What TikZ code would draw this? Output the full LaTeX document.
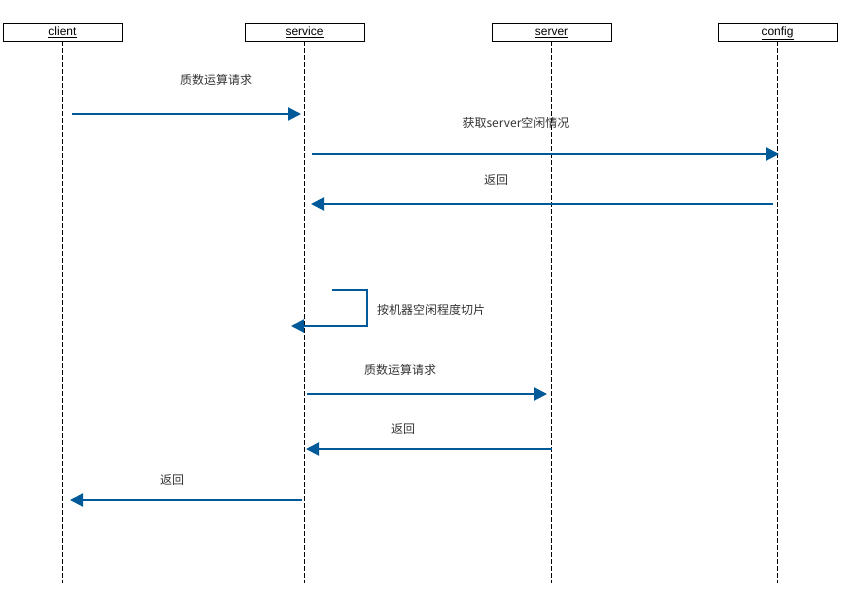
\documentclass[tikz,border=0pt]{standalone}
\usepackage{fontspec}
\setmainfont{Liberation Sans}
\newfontfamily\cjk{Noto Sans CJK SC}
\usepackage{tikz}
\usetikzlibrary{arrows.meta,positioning,calc}
\definecolor{msgblue}{HTML}{005A9A}
\definecolor{labelgray}{HTML}{333333}

\begin{document}
\begin{tikzpicture}[
  x=1pt,y=-1pt,
  lifebox/.style={rectangle,draw=black,line width=0.8pt,fill=white,
    minimum width=119pt,minimum height=18pt,inner sep=0pt,
    text height=8pt,text depth=1pt,
    font=\fontsize{12}{14}\selectfont},
  lifeline/.style={draw=black,line width=0.8pt,dash pattern=on 5pt off 2pt},
  msg/.style={-{Triangle[length=13pt,width=13pt]},draw=msgblue,line width=2pt},
  msglabel/.style={font=\cjk\fontsize{12}{14}\selectfont,text=labelgray,inner sep=0pt},
]
  \useasboundingbox (0,0) rectangle (850,595);
  % participants
  \node[lifebox] (client)  at (62.5,32)  {\underline{client}};
  \node[lifebox] (service) at (304.5,32) {\underline{service}};
  \node[lifebox] (server)  at (551.5,32) {\underline{server}};
  \node[lifebox] (config)  at (777.5,32) {\underline{config}};
  \foreach \p in {client,service,server,config}{
    \coordinate (\p-end) at ($(\p.south)+(0,542)$);
    \draw[lifeline] (\p.south) -- (\p-end);
  }
  % message end points
  \coordinate (m1s) at (72,114);   \coordinate (m1e) at (301,114);
  \coordinate (m2s) at (312,154);  \coordinate (m2e) at (779,154);
  \coordinate (m3s) at (773,204);  \coordinate (m3e) at (311,204);
  \coordinate (m4s) at (332,290);  \coordinate (m4e) at (291,326);
  \coordinate (m5s) at (307,394);  \coordinate (m5e) at (547,394);
  \coordinate (m6s) at (552,449);  \coordinate (m6e) at (306,449);
  \coordinate (m7s) at (302,500);  \coordinate (m7e) at (70,500);
  % messages
  \draw[msg] (m1s) -- (m1e);
  \draw[msg] (m2s) -- (m2e);
  \draw[msg] (m3s) -- (m3e);
  \draw[msg] (m4s) -- ++(35,0) |- (m4e);
  \draw[msg] (m5s) -- (m5e);
  \draw[msg] (m6s) -- (m6e);
  \draw[msg] (m7s) -- (m7e);
  % labels
  \node[msglabel] (l1) at (216,80)  {质数运算请求};
  \node[msglabel] (l2) at (516,123) {获取server空闲情况};
  \node[msglabel] (l3) at (496,180) {返回};
  \node[msglabel,anchor=west] (l4) at (377,310) {按机器空闲程度切片};
  \node[msglabel] (l5) at (400,370) {质数运算请求};
  \node[msglabel] (l6) at (403,429) {返回};
  \node[msglabel] (l7) at (172,480) {返回};
\end{tikzpicture}
\end{document}
